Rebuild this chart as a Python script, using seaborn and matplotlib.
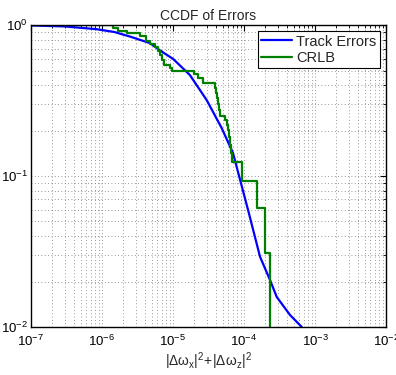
import numpy as np
import pandas as pd
import seaborn as sns
import matplotlib.pyplot as plt

## Data
# Track Errors: smooth CCDF curve
track_x = [1.0e-7, 3.0e-7, 8.4e-7, 1.5e-6, 2.48e-6, 4.74e-6, 6.56e-6, 1.01e-5,
           1.73e-5, 2.99e-5, 4.85e-5, 7.0e-5, 1.14e-4, 1.68e-4, 2.32e-4,
           2.89e-4, 4.45e-4, 6.5e-4]
track_y = [0.995, 0.98, 0.94, 0.90, 0.84, 0.76, 0.68, 0.596,
           0.467, 0.318, 0.208, 0.142, 0.0596, 0.0292, 0.0205,
           0.0158, 0.012, 0.01]

# CRLB: empirical step CCDF
crlb_x = [1.0e-7, 1.43e-6, 1.68e-6, 2.25e-6, 3.43e-6, 4.17e-6, 4.74e-6, 5.57e-6,
          6.15e-6, 6.56e-6, 7.0e-6, 7.47e-6, 9.08e-6, 9.68e-6, 1.98e-5, 2.25e-5,
          2.65e-5, 3.91e-5, 4.04e-5, 4.17e-5, 4.31e-5, 4.45e-5, 4.6e-5, 5.4e-5,
          5.76e-5, 5.95e-5, 6.15e-5, 6.35e-5, 6.56e-5, 6.78e-5, 9.37e-5, 1.52e-4,
          1.98e-4, 2.29e-4]
crlb_y = [1.0, 0.955, 0.92, 0.885, 0.846, 0.783, 0.748, 0.715,
          0.673, 0.633, 0.586, 0.543, 0.519, 0.496, 0.474, 0.446,
          0.413, 0.383, 0.355, 0.329, 0.300, 0.274, 0.250, 0.235,
          0.218, 0.202, 0.181, 0.160, 0.142, 0.124, 0.0927, 0.0614,
          0.0309, 0.001]

sns.set_style("white")
plt.rcParams['font.family'] = ['Liberation Sans', 'DejaVu Sans']
plt.rcParams['mathtext.fontset'] = 'custom'
plt.rcParams['mathtext.rm'] = 'Liberation Sans'
plt.rcParams['mathtext.it'] = 'Liberation Sans'

fig = plt.figure(figsize=(3.96, 3.75), dpi=100)
ax = fig.add_axes([0.078, 0.128, 0.897, 0.805])

sns.lineplot(x=track_x, y=track_y, ax=ax, color="#0000ff", linewidth=1.6,
             label="Track Errors", estimator=None, sort=False)
sns.lineplot(x=crlb_x, y=crlb_y, ax=ax, color="#008000", linewidth=1.6,
             label="CRLB", estimator=None, sort=False, drawstyle="steps-post")

ax.set_xscale("log")
ax.set_yscale("log")
ax.set_xlim(1e-7, 1e-2)
ax.set_ylim(1e-2, 1)

ax.grid(True, which="both", linestyle=(0, (1, 3)), color="#777777", linewidth=0.6)
ax.tick_params(which="both", direction="in", top=True, right=True,
               labelsize=9.5, colors="black")
ax.tick_params(axis="x", which="major", length=4, pad=5)
ax.tick_params(axis="y", which="major", length=4, pad=2)
ax.tick_params(which="minor", length=2)
for s in ax.spines.values():
    s.set_color("black")
    s.set_linewidth(1.0)

ax.set_title("CCDF of Errors", fontsize=10, pad=4)
ax.set_xlabel(r"$|\Delta\omega_x|^2\!+\!|\Delta\omega_z|^2$", fontsize=10, labelpad=1)

leg = ax.legend(loc="upper right", fontsize=10.5, frameon=True, fancybox=False,
                borderpad=0.25, handlelength=2.1, labelspacing=0.15,
                handletextpad=0.3, borderaxespad=0.4)
leg.get_frame().set_edgecolor("black")
leg.get_frame().set_linewidth(0.8)
leg.get_frame().set_alpha(1)

fig.savefig("out.png", dpi=100)
